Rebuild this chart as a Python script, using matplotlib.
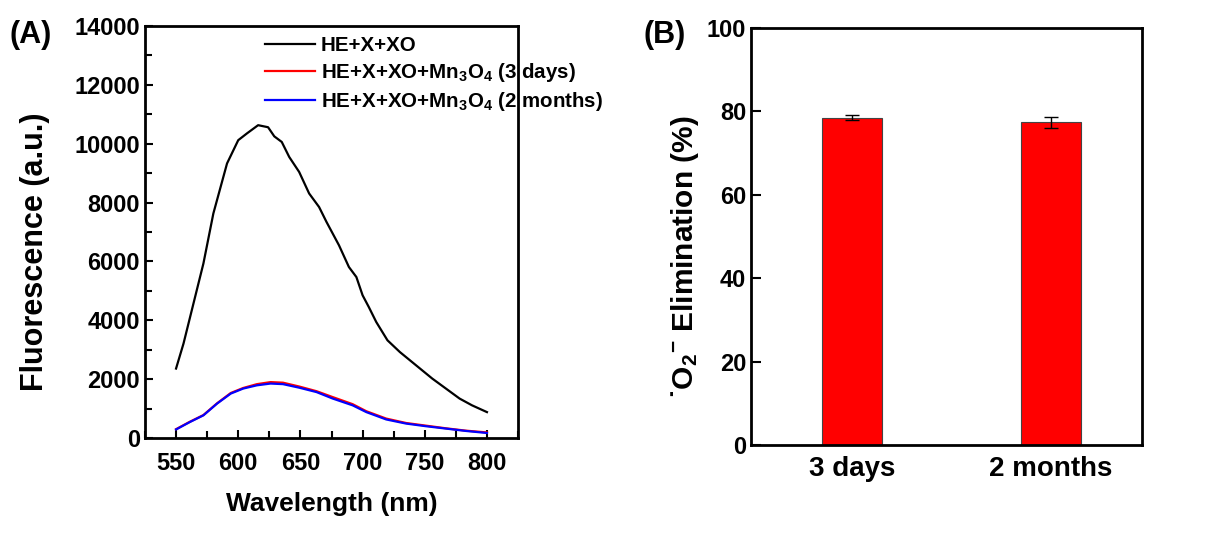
import matplotlib
matplotlib.use('Agg')
import matplotlib.pyplot as plt
from matplotlib.ticker import MultipleLocator

plt.rcParams['font.family'] = ['Liberation Sans', 'DejaVu Sans']
plt.rcParams['font.weight'] = 'bold'
plt.rcParams['mathtext.fontset'] = 'custom'
plt.rcParams['mathtext.rm'] = 'Liberation Sans'
plt.rcParams['mathtext.bf'] = 'Liberation Sans:bold'
plt.rcParams['mathtext.default'] = 'bf'

# panel A: fluorescence spectra
wl_black = [550, 556, 566, 572, 580, 591, 600, 607, 616, 624, 629, 635, 641, 649, 657,
            665, 671, 681, 689, 695, 700, 705, 711, 720, 730, 743, 756, 767, 778, 788, 800]
fl_black = [2360, 3210, 4910, 5930, 7630, 9330, 10120, 10350, 10630, 10560, 10250, 10060,
            9550, 9040, 8310, 7850, 7340, 6550, 5810, 5470, 4850, 4450, 3940, 3320, 2920,
            2470, 2020, 1680, 1340, 1110, 880]

wl_low = [550, 561, 572, 583, 594, 604, 615, 626, 636, 649, 663, 676, 692, 703, 719,
          735, 751, 767, 783, 800]
fl_3days = [300, 550, 780, 1180, 1530, 1700, 1830, 1900, 1880, 1750, 1590, 1390, 1150,
            910, 660, 510, 420, 330, 250, 190]
fl_2months = [290, 540, 770, 1170, 1510, 1680, 1790, 1850, 1830, 1710, 1560, 1340, 1110,
              880, 630, 490, 400, 320, 240, 170]

# panel B: elimination
groups = ['3 days', '2 months']
elim = [78.4, 77.3]
elim_err = [0.6, 1.3]

fig = plt.figure(figsize=(12.07, 5.35), dpi=100)

#########################################################
# (A)
#########################################################
ax1 = fig.add_axes([0.1201, 0.1813, 0.3091, 0.7701])
ax1.plot(wl_black, fl_black, color='black', lw=1.6, label='HE+X+XO')
ax1.plot(wl_low, fl_3days, color='red', lw=1.6, label='HE+X+XO+Mn$_3$O$_4$ (3 days)')
ax1.plot(wl_low, fl_2months, color='blue', lw=1.6, label='HE+X+XO+Mn$_3$O$_4$ (2 months)')
ax1.set_xlim(525, 825)
ax1.set_ylim(0, 14000)
ax1.xaxis.set_major_locator(MultipleLocator(50))
ax1.xaxis.set_minor_locator(MultipleLocator(25))
ax1.yaxis.set_major_locator(MultipleLocator(2000))
ax1.yaxis.set_minor_locator(MultipleLocator(1000))
ax1.tick_params(which='both', direction='in', width=1.5, labelsize=17, top=False, right=False)
ax1.tick_params(which='major', length=6)
ax1.tick_params(which='minor', length=5)
ax1.tick_params(axis='x', pad=10)
ax1.set_xlabel('Wavelength (nm)', fontsize=19, fontweight='bold', labelpad=12)
ax1.set_ylabel('Fluorescence (a.u.)', fontsize=22, fontweight='bold')
ax1.yaxis.set_label_coords(-0.255, 0.453)
for s in ax1.spines.values():
    s.set_linewidth(2)
ax1.legend(loc='upper left', bbox_to_anchor=(0.295, 1.0), frameon=False, fontsize=14.8,
           handlelength=2.4, handletextpad=0.3, labelspacing=0.28, borderpad=0)
fig.text(0.008, 0.92, '(A)', fontsize=22, fontweight='bold')

#########################################################
# (B)
#########################################################
ax2 = fig.add_axes([0.6222, 0.1682, 0.3239, 0.7800])
ax2.bar(range(len(groups)), elim, width=0.3, color='#ff0000', edgecolor='#444444', linewidth=0.8,
        yerr=elim_err, error_kw=dict(ecolor='black', elinewidth=1, capsize=5, capthick=1))
ax2.set_xlim(-0.505, 1.455)
ax2.set_ylim(0, 100)
ax2.yaxis.set_major_locator(MultipleLocator(20))
ax2.set_xticks(range(len(groups)))
ax2.set_xticklabels(groups, fontsize=20)
ax2.tick_params(axis='x', length=0, pad=8)
ax2.tick_params(axis='y', direction='in', length=7, width=1.5, labelsize=17)
ax2.set_ylabel('˙O$_{\\mathrm{2}}$$^{\\mathbf{-}}$ Elimination (%)', fontsize=21.5, fontweight='bold')
ax2.yaxis.set_label_coords(-0.128, 0.45)
for s in ax2.spines.values():
    s.set_linewidth(2)
fig.text(0.533, 0.92, '(B)', fontsize=22, fontweight='bold')

plt.savefig('out.png', dpi=100)
plt.close(fig)
